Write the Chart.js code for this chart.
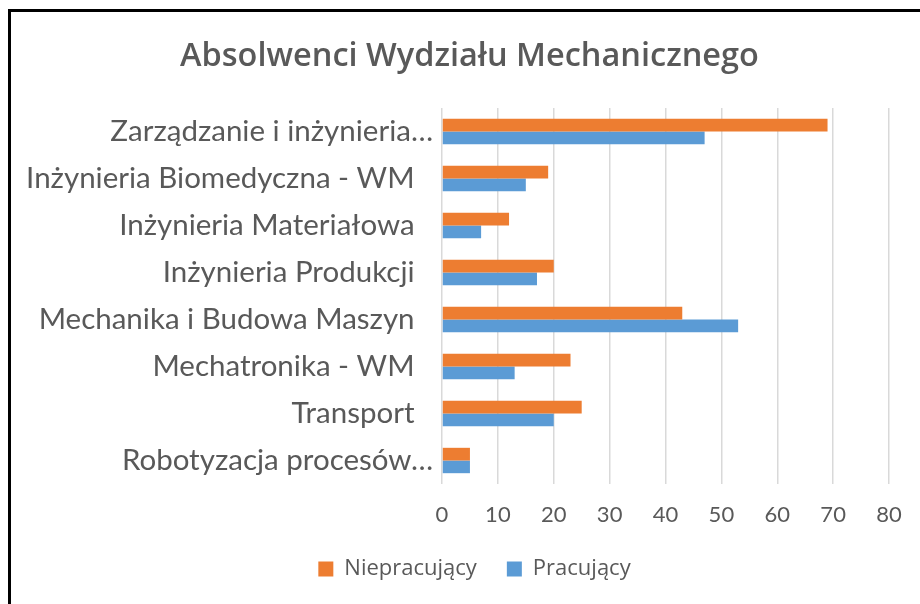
<!DOCTYPE html>
<html>
<head>
<meta charset="utf-8">
<script src="https://cdn.jsdelivr.net/npm/chart.js@4"></script>
<style>
  html, body { margin: 0; padding: 0; background: #fff; }
  #wrap { position: relative; width: 920px; height: 604px; overflow: hidden; }
  #frame { position: absolute; left: 8px; top: 9px; width: 1000px; height: 1000px; border-left: 3px solid #000; border-top: 3px solid #000; pointer-events: none; }
  canvas { position: absolute; left: 0; top: 0; }
</style>
</head>
<body>
<div id="wrap">
  <canvas id="c" width="920" height="604"></canvas>
  <div id="frame"></div>
</div>
<script>
const categories = [
  "Zarządzanie i inżynieria…",
  "Inżynieria Biomedyczna - WM",
  "Inżynieria Materiałowa",
  "Inżynieria Produkcji",
  "Mechanika i Budowa Maszyn",
  "Mechatronika - WM",
  "Transport",
  "Robotyzacja procesów…"
];
const niepracujacy = [69, 19, 12, 20, 43, 23, 25, 5];
const pracujacy = [47, 15, 7, 17, 53, 13, 20, 5];
const seriesNames = ["Niepracujący", "Pracujący"];
const xTicks = [0, 10, 20, 30, 40, 50, 60, 70, 80];

const LATO = "Lato, 'Open Sans', sans-serif";
const OPEN = "'Open Sans', Lato, sans-serif";
const GREY = "#595959";

// shift the title and legend blocks to the centre of the framed chart
const shiftBlocks = {
  id: 'shiftBlocks',
  afterLayout(chart) {
    if (chart.titleBlock) { chart.titleBlock.left += 25; chart.titleBlock.right += 25; }
    if (chart.legend) { chart.legend.left += 30; chart.legend.right += 30; }
  }
};

new Chart(document.getElementById('c'), {
  type: 'bar',
  data: {
    labels: categories,
    datasets: [
      { label: seriesNames[0], data: niepracujacy, backgroundColor: '#ED7D31', categoryPercentage: 0.54, barPercentage: 1.0 },
      { label: seriesNames[1], data: pracujacy, backgroundColor: '#5B9BD5', categoryPercentage: 0.54, barPercentage: 1.0 }
    ]
  },
  plugins: [shiftBlocks],
  options: {
    indexAxis: 'y',
    responsive: false,
    animation: false,
    layout: { padding: { top: 30, left: 0, right: 31, bottom: 14 } },
    plugins: {
      title: {
        display: true,
        text: 'Absolwenci Wydziału Mechanicznego',
        color: GREY,
        font: { family: OPEN, size: 32.5, weight: '600' },
        padding: { top: 7, bottom: 32 }
      },
      legend: {
        position: 'bottom',
        labels: {
          color: GREY,
          font: { family: OPEN, size: 22 },
          boxWidth: 15,
          boxHeight: 15,
          padding: 30
        }
      },
      tooltip: { enabled: false }
    },
    scales: {
      x: {
        min: 0, max: 80,
        afterBuildTicks: (s) => { s.ticks = xTicks.map(v => ({ value: v })); },
        grid: { color: '#d9d9d9', lineWidth: 1.5, drawTicks: false },
        border: { display: false },
        ticks: { color: GREY, font: { family: LATO, size: 22 }, padding: 18 },
        afterFit: (s) => { s.height = 44; }
      },
      y: {
        grid: { display: false, drawTicks: false },
        border: { display: false },
        ticks: {
          color: GREY, font: { family: LATO, size: 29.5 }, padding: 9, autoSkip: false,
          callback: function (v, i) {
            const t = this.getLabelForValue(v);
            return t.endsWith('…') ? t : t + '\u2002\u2009';
          }
        },
        afterFit: (s) => { s.width = 442; }
      }
    }
  }
});
</script>
</body>
</html>
